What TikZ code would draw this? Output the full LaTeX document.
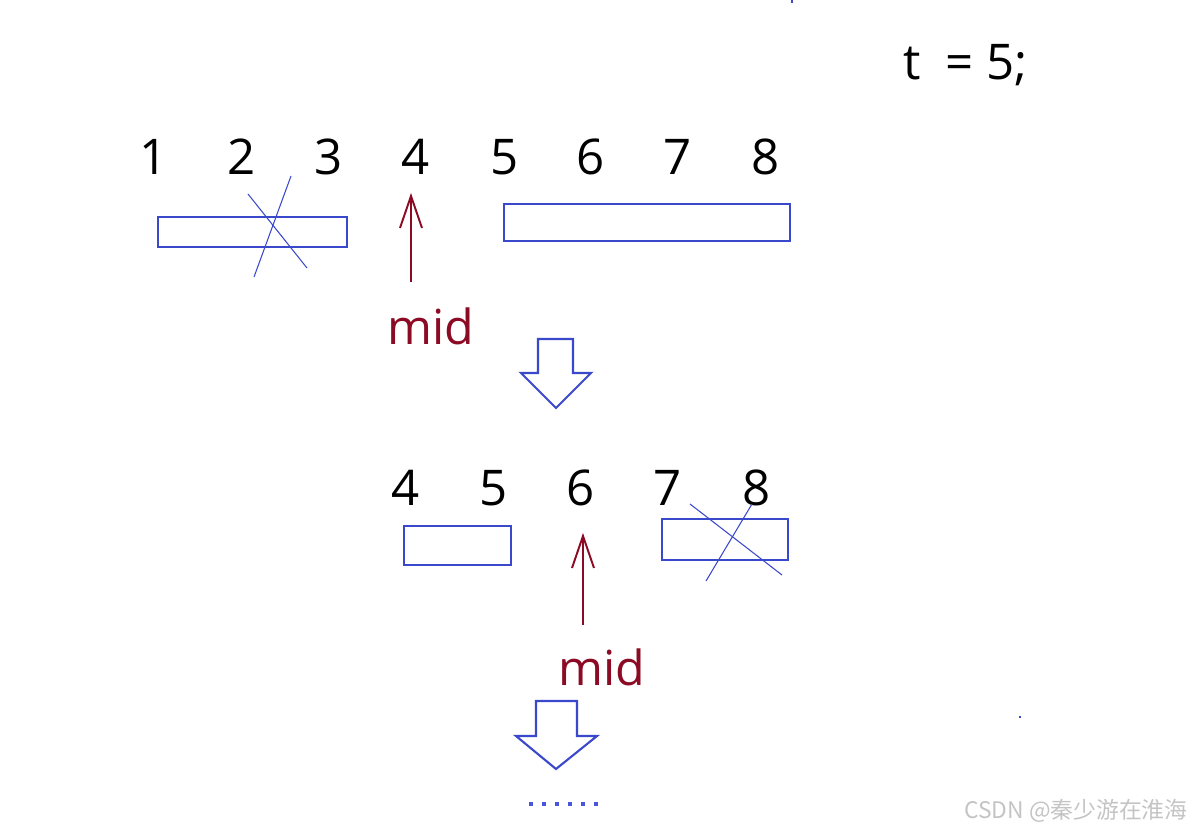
\documentclass[tikz,border=0pt]{standalone}
\usepackage{fontspec}
\setmainfont{Open Sans}
\newfontfamily\cjkfont{Noto Sans CJK SC}
\usepackage{tikz}
\usetikzlibrary{arrows.meta}
\definecolor{lineblue}{HTML}{3A48CC}
\definecolor{dotblue}{HTML}{4A55DD}
\definecolor{midred}{HTML}{8B0A24}
\definecolor{markgray}{HTML}{C4C4C4}
\tikzset{
  numlabel/.style={font=\fontsize{28}{30}\selectfont, text=black, inner sep=0pt},
  midlabel/.style={font=\fontsize{27.5}{29}\selectfont, text=midred, inner sep=0pt},
  rangebox/.style={rectangle, draw=lineblue, line width=1.2pt, inner sep=0pt},
  crossline/.style={draw=lineblue, line width=0.6pt},
  midarrow/.style={
    -{Straight Barb[length=0.64cm, width=0.44cm]}, line width=1.1pt, color=midred
  },
  downarrow/.style={draw=lineblue, line width=1.2pt, fill=white},
}

\begin{document}
\begin{tikzpicture}[x=0.02cm, y=-0.02cm]
\useasboundingbox (0,0) rectangle (1191,831);
\node[numlabel, anchor=west] (tval) at (903,65) {t\hspace{0.24cm} = 5;};
% first search range
\foreach \n/\x in {1/154,2/242,3/329,4/416,5/505,6/591,7/678,8/766}
  \node[numlabel] (top\n) at (\x,157) {\n};
\node[rangebox, minimum width=3.78cm, minimum height=0.6cm] (lbox1) at (252.5,232) {};
\node[rangebox, minimum width=5.72cm, minimum height=0.74cm] (rbox1) at (647,222.5) {};
\draw[crossline] (291,176) -- (254,277);
\draw[crossline] (248,194) -- (307,268);
\coordinate (tip1) at (411,193);
\coordinate (tail1) at (411,282);
\node[midlabel] (mid1) at (431,326) {mid};
\draw[midarrow] (tail1) -- (tip1);
\draw[downarrow] (538,339) -- (573,339) -- (573,373) -- (591,373) -- (556,408)
  -- (521,373) -- (538,373) -- cycle;
% second search range
\foreach \n/\x in {4/406,5/494,6/581,7/668,8/757}
  \node[numlabel] (bot\n) at (\x,488) {\n};
\node[rangebox, minimum width=2.14cm, minimum height=0.78cm] (lbox2) at (457.5,545.5) {};
\node[rangebox, minimum width=2.52cm, minimum height=0.82cm] (rbox2) at (725,539.5) {};
\draw[crossline] (690,504) -- (782,575);
\draw[crossline] (752,504) -- (706,581);
\coordinate (tip2) at (583,533);
\coordinate (tail2) at (583,625);
\node[midlabel] (mid2) at (602,667) {mid};
\draw[midarrow] (tail2) -- (tip2);
\draw[downarrow] (536,701) -- (577,701) -- (577,736) -- (597,736) -- (556,769)
  -- (516,736) -- (536,736) -- cycle;
\foreach \x in {531,544,557,570,583,596}
  \fill[dotblue] (\x-2,802) rectangle (\x+2,806);
% stray marks
\fill[lineblue] (791,0) rectangle (793,3);
\fill[lineblue] (1019,716) rectangle (1021,718);
\node[font=\cjkfont\fontsize{13}{15}\selectfont, text=markgray, anchor=east, inner sep=0pt]
  (mark) at (1188,811) {CSDN @秦少游在淮海};
\end{tikzpicture}
\end{document}
